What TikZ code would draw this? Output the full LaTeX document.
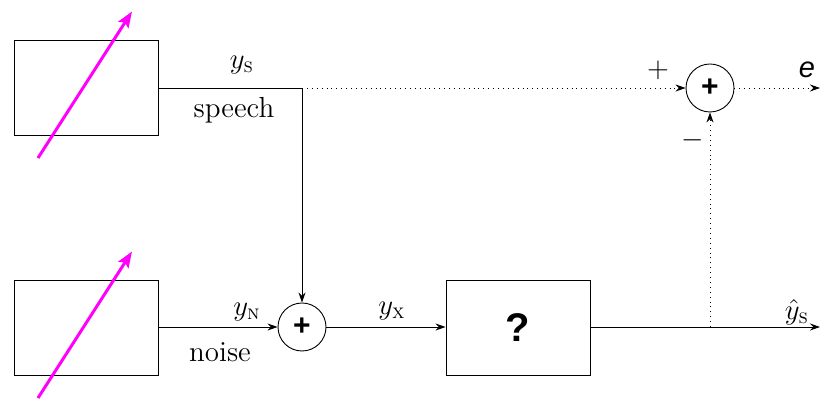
\documentclass[tikz,border=0pt]{standalone}
\usepackage{amsmath,amssymb}
\usepackage{fontspec}
\newfontfamily\helv{Liberation Sans}
\usetikzlibrary{arrows.meta}
\definecolor{tunecol}{RGB}{255,0,255}

\begin{document}
\begin{tikzpicture}[x=0.5pt, y=-0.5pt, line width=0.45pt,
	every node/.style={font=\fontsize{14.5}{17}\selectfont},
	block/.style={draw, minimum width=72pt, minimum height=47.5pt, inner sep=0pt},
	adder/.style={draw, circle, minimum size=24pt, inner sep=0pt, font=\helv\bfseries\fontsize{15}{17}\selectfont},
	sig/.style={-{Stealth[length=5pt,width=3.5pt]}},
	tune/.style={tunecol, line width=1.5pt, -{Stealth[length=8pt,width=6pt,inset=1.5pt]}}]
	\useasboundingbox (0,0) rectangle (820,400);
	\foreach \y/\nm in {87.5/speechsrc, 327.5/noisesrc} {
		\node[block] (\nm) at (86,\y) {};
		\draw[tune] (38,\y+70.5) -- (132,\y-76);
	}
	\node[adder] (sumA) at (302,327) {+};
	\node[adder] (sumB) at (710,88) {+};
	\node[block, font=\helv\bfseries\fontsize{20}{22}\selectfont] (est) at (518,327.5) {?};
	\coordinate (split) at (302,88);
	\coordinate (tap) at (710,327);
	\coordinate (outE) at (820,88);
	\coordinate (outY) at (820,327);
	\draw (speechsrc.east |- split) -- (split);
	\draw[sig] (split) -- (sumA);
	\draw[sig] (noisesrc.east |- sumA) -- (sumA);
	\draw[sig] (sumA) -- (est.west |- sumA);
	\draw[sig] (est.east |- outY) -- (outY);
	\draw[dotted, sig] (split) -- (sumB);
	\draw[dotted, sig] (tap) -- (sumB);
	\draw[dotted, sig] (sumB) -- (outE);
	\node (yS) at (242,65) {$y_{\textsc{s}}$};
	\node (speech) at (234,110) {speech};
	\node (yN) at (247,312) {$y_{\textsc{n}}$};
	\node (noise) at (220,352) {noise};
	\node (yX) at (392,311) {$y_{\textsc{x}}$};
	\node (yhat) at (797,312) {$\hat{y}_{\textsc{s}}$};
	\node (plus) at (658,70) {$+$};
	\node (minus) at (693,140) {$-$};
	\node[font=\helv\itshape\fontsize{14.5}{17}\selectfont] (err) at (807,70) {e};
\end{tikzpicture}
\end{document}
